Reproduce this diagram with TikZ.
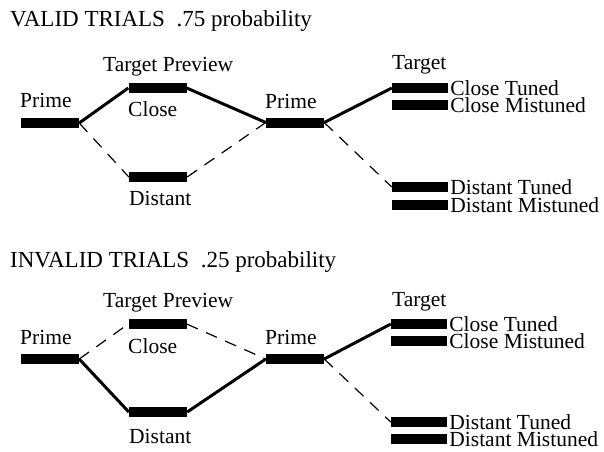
\documentclass[tikz,border=0pt]{standalone}
\usepackage{fontspec}
\setmainfont{Liberation Serif}
\usetikzlibrary{positioning}
\begin{document}
\begin{tikzpicture}[x=1pt,y=-1pt, line join=round,
  bar/.style={fill=black, minimum width=58pt, minimum height=10pt, inner sep=0pt},
  tbar/.style={bar, minimum width=56pt},
  lab/.style={inner sep=0pt, anchor=base west, font=\fontsize{21.5}{24}\selectfont},
  side/.style={inner sep=0pt, font=\fontsize{21.5}{24}\selectfont},
  ttl/.style={inner sep=0pt, anchor=base west, font=\fontsize{23}{26}\selectfont},
  go/.style={line width=3pt},
  nogo/.style={line width=1.2pt, dash pattern=on 12pt off 9pt}]
  \useasboundingbox (0,0) rectangle (604,451);
  % valid trials
  \node[ttl] (vtitle) at (10,26) {VALID TRIALS\ \ .75 probability};
  \node[bar] (vp1) at (50,123) {};
  \node[bar] (vclose) at (157.5,88) {};
  \node[bar] (vdist) at (158,177) {};
  \node[bar] (vp2) at (295,122.5) {};
  \node[tbar] (vct) at (420,88) {};
  \node[tbar] (vcm) at (420,105) {};
  \node[tbar] (vdt) at (420,187) {};
  \node[tbar] (vdm) at (420,205) {};
  \node[lab] (vp1lab) at (20,107) {Prime};
  \node[lab] (vprev) at (103,71) {Target Preview};
  \node[lab] (vcloselab) at (128,116) {Close};
  \node[lab] (vdistlab) at (129,205) {Distant};
  \node[lab] (vp2lab) at (265,108) {Prime};
  \node[lab] (vtarget) at (392,69) {Target};
  \node[side, right=2pt of vct] {Close Tuned};
  \node[side, right=2pt of vcm] {Close Mistuned};
  \node[side, right=2pt of vdt] {Distant Tuned};
  \node[side, right=2pt of vdm] {Distant Mistuned};
  \draw[go] (vp1.east) -- (vclose.west);
  \draw[go] (vclose.east) -- (vp2.west);
  \draw[nogo] (vp1.east) -- (vdist.west);
  \draw[nogo] (vdist.east) -- (vp2.west);
  \draw[go] (vp2.east) -- (vct.west);
  \draw[nogo] (vp2.east) -- (vdt.west);
  % invalid trials
  \node[ttl] (ititle) at (10,267) {INVALID TRIALS\ \ .25 probability};
  \node[bar] (ip1) at (50,359) {};
  \node[bar] (iclose) at (157.5,324) {};
  \node[bar] (idist) at (158,412) {};
  \node[bar] (ip2) at (295,359) {};
  \node[tbar] (ict) at (419,324) {};
  \node[tbar] (icm) at (419,341) {};
  \node[tbar] (idt) at (419,422) {};
  \node[tbar] (idm) at (419,439) {};
  \node[lab] (ip1lab) at (20,344) {Prime};
  \node[lab] (iprev) at (103,307) {Target Preview};
  \node[lab] (icloselab) at (128,353) {Close};
  \node[lab] (idistlab) at (129,443) {Distant};
  \node[lab] (ip2lab) at (265,344) {Prime};
  \node[lab] (itarget) at (392,306) {Target};
  \node[side, right=2pt of ict] {Close Tuned};
  \node[side, right=2pt of icm] {Close Mistuned};
  \node[side, right=2pt of idt] {Distant Tuned};
  \node[side, right=2pt of idm] {Distant Mistuned};
  \draw[nogo] (ip1.east) -- (iclose.west);
  \draw[nogo] (iclose.east) -- (ip2.west);
  \draw[go] (ip1.east) -- (idist.west);
  \draw[go] (idist.east) -- (ip2.west);
  \draw[go] (ip2.east) -- (ict.west);
  \draw[nogo] (ip2.east) -- (idt.west);
\end{tikzpicture}
\end{document}
